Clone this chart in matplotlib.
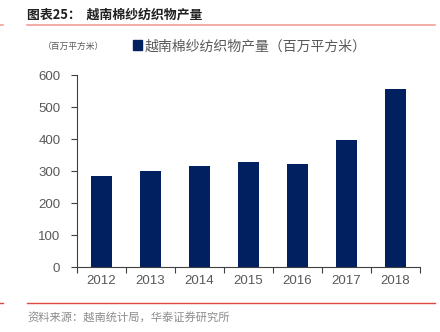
import matplotlib
matplotlib.use("Agg")
import matplotlib.pyplot as plt
from matplotlib.lines import Line2D
from matplotlib.patches import Patch

plt.rcParams['font.family'] = ['Liberation Sans', 'Noto Sans CJK SC', 'DejaVu Sans']

years = ['2012', '2013', '2014', '2015', '2016', '2017', '2018']
values = [285, 300, 316, 328, 323, 396, 556]
series_name = '越南棉纱纺织物产量（百万平方米）'
unit_label = '（百万平方米）'
title = '图表25：  越南棉纱纺织物产量'
source = '资料来源：越南统计局，华泰证券研究所'
yticks = [0, 100, 200, 300, 400, 500, 600]

navy = '#002060'
gray_txt = '#595959'
cjk = ['Noto Sans CJK SC', 'DejaVu Sans']

fig = plt.figure(figsize=(4.4, 3.32), dpi=100)
ax = fig.add_axes([77/440, 1-267/332, 343/440, 192/332])

x = list(range(len(years)))
ax.bar(x, values, width=0.43, color=navy, zorder=2)
ax.set_xlim(-0.5, len(years)-0.5)
ax.set_ylim(0, 600)
ax.set_yticks(yticks)
ax.set_yticklabels([str(t) for t in yticks], fontsize=9.5, color=gray_txt)
ax.set_xticks(x)
ax.set_xticklabels(years, fontsize=9.5, color=gray_txt)
ax.tick_params(axis='x', length=0, pad=6)
ax.set_xticks([i + 0.5 for i in range(-1, len(years))], minor=True)
ax.tick_params(axis='x', which='minor', length=4, color='#404040', width=0.8, direction='out')
ax.tick_params(axis='y', length=4, color='#404040', width=0.8, direction='out', pad=8)
for s in ['top', 'right']:
    ax.spines[s].set_visible(False)
for s in ['left', 'bottom']:
    ax.spines[s].set_color('#404040')
    ax.spines[s].set_linewidth(0.8)

leg = ax.legend([Patch(color=navy)], [series_name], loc='center left',
                bbox_to_anchor=(120/440, 1-46/332), bbox_transform=fig.transFigure,
                frameon=False, handlelength=0.7, handleheight=0.7, handletextpad=0.15,
                prop={'family': cjk, 'size': 10})
for t in leg.get_texts():
    t.set_color(gray_txt)

fig.text(43/440, 1-46/332, unit_label, family=cjk, fontsize=6.3, color=gray_txt, va='center')

fig.text(27/440, 1-15/332, title, family=cjk, fontsize=9.3, fontweight='bold', color='#202020', va='center')
fig.add_artist(Line2D([27/440, 435/440], [1-25/332]*2, color='#F4A09A', lw=1.2, transform=fig.transFigure))
fig.add_artist(Line2D([0, 3/440], [1-25/332]*2, color='#F4A09A', lw=1.2, transform=fig.transFigure))
fig.add_artist(Line2D([27/440, 435/440], [1-303/332]*2, color='#E04A40', lw=1.0, transform=fig.transFigure))
fig.add_artist(Line2D([0, 3/440], [1-303/332]*2, color='#E04A40', lw=1.0, transform=fig.transFigure))
fig.text(27/440, 1-318/332, source, family=cjk, fontsize=8.1, color='#8C8C8C', va='center')

fig.savefig('out.png', dpi=100)
